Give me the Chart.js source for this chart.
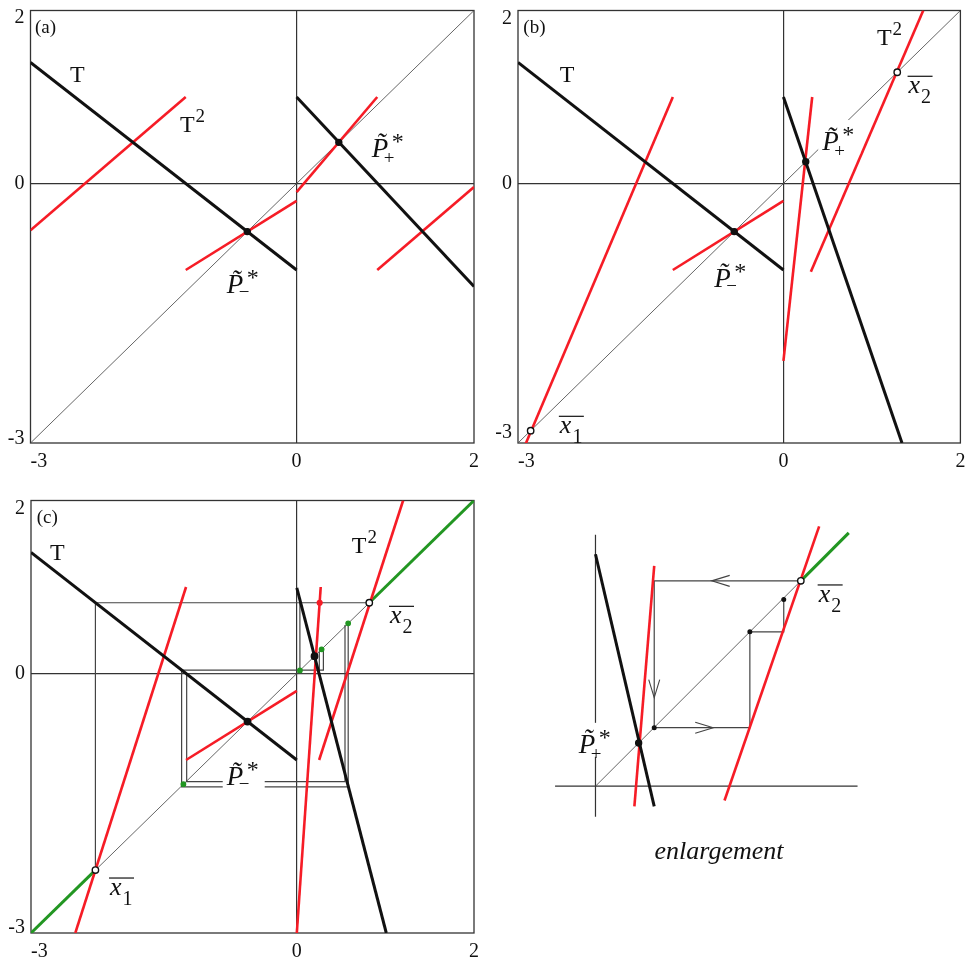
<!DOCTYPE html>
<html>
<head>
<meta charset="utf-8">
<title>T and T² – piecewise linear map</title>
<script src="https://cdn.jsdelivr.net/npm/chart.js@4.4.1/dist/chart.umd.min.js"></script>
<style>
  html, body { margin: 0; padding: 0; background: #fff; }
  body { width: 965px; height: 961px; position: relative; overflow: hidden; }
  canvas { position: absolute; }
  #caption { position: absolute; left: 619px; top: 838px; width: 200px; text-align: center;
             font: italic 26px/26px "Liberation Serif", "Times New Roman", serif; color: #111; }
</style>
</head>
<body>
<canvas id="panelA" width="482" height="470" style="left:0;top:0"></canvas>
<canvas id="panelB" width="483" height="470" style="left:482px;top:0"></canvas>
<canvas id="panelC" width="482" height="471" style="left:0;top:490px"></canvas>
<canvas id="panelD" width="340" height="340" style="left:540px;top:505px"></canvas>
<div id="caption">enlargement</div>
<script>
const SERIF = '"Liberation Serif", "Times New Roman", serif';
const tickValues = [-3, 0, 2];
const identityLine = [[-3, -3], [2, 2]];

// (a) T branches, T^2 branches, fixed points
const aLeftBranch = [[-3, 1.4], [0, -1.0]];
const aRightBranch = [[0, 1.0], [2, -1.19]];
const aSecondIterate = [
  [[-3, -0.54], [-1.25, 1.0]],
  [[-1.25, -1.0], [0, -0.2]],
  [[0, -0.1], [0.909, 1.0]],
  [[0.909, -1.0], [2, -0.04]]
];
const aFixedPoints = [[-0.556, -0.556], [0.476, 0.476]];

// (b)
const bLeftBranch = [[-3, 1.4], [0, -1.0]];
const bRightBranch = [[0, 1.0], [1.34, -3.0]];
const bSecondIterate = [
  [[-2.93, -3.05], [-1.25, 1.0]],
  [[-1.25, -1.0], [0, -0.2]],
  [[0, -2.05], [0.325, 1.0]],
  [[0.31, -1.02], [1.58, 2.0]]
];
const bFixedPoints = [[-0.556, -0.556], [0.252, 0.252]];
const bCyclePoints = [[-2.857, -2.857], [1.286, 1.286]];

// (c)
const cLeftBranch = [[-3, 1.4], [0, -1.0]];
const cRightBranch = [[0, 0.99], [1.01, -3.0]];
const cSecondIterate = [
  [[-2.5, -3.0], [-1.25, 1.0]],
  [[-1.25, -1.0], [0, -0.2]],
  [[0, -3.0], [0.27, 1.0]],
  [[0.252, -1.0], [1.2, 2.0]]
];
const cFixedPoints = [[-0.556, -0.556], [0.2, 0.2]];
const cCyclePoints = [[-2.273, -2.273], [0.818, 0.818]];
const cGreenDiagonal = [
  [[-3, -3], [-2.273, -2.273]],
  [[0.818, 0.818], [2, 2]]
];
const cOrbitStarts = [[0.035, 0.035], [0.28, 0.28], [0.58, 0.58], [-1.28, -1.28]];
const cRedMark = [[0.258, 0.818]];
const cCobweb = [
  [[-2.273, -2.273], [-2.273, 0.818], [0.818, 0.818]],
  [[0.035, 0.035], [0.035, 0.818]],
  [[0.58, 0.58], [0.58, -1.31], [-1.30, -1.31], [-1.30, 0.04], [0.30, 0.04], [0.30, 0.28]],
  [[0.544, 0.56], [0.544, -1.25], [-1.243, -1.25], [-1.243, 0.0], [0.254, 0.0], [0.254, 0.254]]
];

// enlargement near x = 0 .. x2
const dAxes = [[[0, -0.122], [0, 1.002]], [[-0.161, 0], [1.044, 0]]];
const dDiagonal = [[0, 0], [0.818, 0.818]];
const dGreen = [[0.818, 0.818], [1.009, 1.009]];
const dBranch = [[0, 0.924], [0.234, -0.08]];
const dSecondIterate = [
  [[0.234, 0.878], [0.155, -0.08]],
  [[0.891, 1.035], [0.514, -0.057]]
];
const dFixedPoint = [[0.172, 0.172]];
const dCyclePoint = [[0.818, 0.818]];
const dCobweb = [[0.818, 0.818], [0.234, 0.818], [0.234, 0.233], [0.615, 0.233], [0.615, 0.615], [0.75, 0.615], [0.75, 0.744]];
const dOrbitDots = [[0.234, 0.233], [0.615, 0.615], [0.75, 0.744]];
const dArrows = [[0.463, 0.818, 'left'], [0.234, 0.353, 'down'], [0.469, 0.233, 'right']];

// text anchors (left edge, baseline) in axis units
const aLabels = [
  { kind: 'tag', text: '(a)', at: [-2.949, 1.74] },
  { kind: 'T', at: [-2.555, 1.173] },
  { kind: 'T2', at: [-1.315, 0.599] },
  { kind: 'P', text: '\u2212', at: [-0.788, -1.269] },
  { kind: 'P', text: '+', at: [0.847, 0.31] }
];
const bLabels = [
  { kind: 'tag', text: '(b)', at: [-2.94, 1.74] },
  { kind: 'T', at: [-2.527, 1.177] },
  { kind: 'T2', at: [1.057, 1.601] },
  { kind: 'xbar', text: '2', at: [1.414, 1.043] },
  { kind: 'P', text: '+', at: [0.438, 0.387] },
  { kind: 'P', text: '\u2212', at: [-0.782, -1.193] },
  { kind: 'xbar', text: '1', at: [-2.527, -2.888] }
];
const cLabels = [
  { kind: 'tag', text: '(c)', at: [-2.936, 1.736] },
  { kind: 'T', at: [-2.786, 1.312] },
  { kind: 'T2', at: [0.62, 1.39] },
  { kind: 'xbar', text: '2', at: [1.052, 0.58] },
  { kind: 'xbar', text: '1', at: [-2.108, -2.561] },
  { kind: 'P', text: '\u2212', at: [-0.791, -1.289] }
];
const dLabels = [
  { kind: 'P', text: '+', at: [-0.067, 0.133] },
  { kind: 'xbar', text: '2', at: [0.889, 0.734] }
];

const INK = '#111';
const RED = 'rgb(246, 28, 38)';
const GREEN = 'rgb(34, 150, 34)';
const THIN = '#555';
const GRAY = '#444';

function pts(list) { return list.map(([x, y]) => ({ x, y })); }

function line(list, color, width, order) {
  return { data: pts(list), showLine: true, borderColor: color, borderWidth: width,
           pointRadius: 0, pointHoverRadius: 0, order: order, borderCapStyle: 'butt' };
}

function dots(list, fill, stroke, r, order) {
  return { data: pts(list), showLine: false, pointRadius: r, pointHoverRadius: r,
           pointBackgroundColor: fill, pointBorderColor: stroke, pointBorderWidth: 1.4, order: order };
}

// ---- label glyphs ----
const drawers = {
  tag(ctx, x, y, t) {
    ctx.font = '19px ' + SERIF;
    ctx.fillText(t, x, y);
  },
  T(ctx, x, y) {
    ctx.font = '24px ' + SERIF;
    ctx.fillText('T', x, y);
  },
  T2(ctx, x, y) {
    ctx.font = '24px ' + SERIF;
    ctx.fillText('T', x, y);
    const w = ctx.measureText('T').width;
    ctx.font = '19px ' + SERIF;
    ctx.fillText('2', x + w + 1, y - 10);
  },
  P(ctx, x, y, sign) {
    ctx.fillStyle = '#fff';
    ctx.fillRect(x - 4, y - 30, 42, 34);
    ctx.fillStyle = INK;
    ctx.font = 'italic 27px ' + SERIF;
    ctx.fillText('P\u0303', x, y);
    ctx.font = '24px ' + SERIF;
    ctx.fillText('*', x + 20, y - 8);
    ctx.font = '19px ' + SERIF;
    ctx.fillText(sign, x + 12, y + (sign === '+' ? 7 : 5));
  },
  xbar(ctx, x, y, digit) {
    ctx.font = 'italic 26px ' + SERIF;
    ctx.fillText('x', x, y);
    const w = ctx.measureText('x').width;
    ctx.beginPath();
    ctx.lineWidth = 1.2;
    ctx.moveTo(x - 1, y - 17);
    ctx.lineTo(x + 24, y - 17);
    ctx.stroke();
    ctx.font = '20px ' + SERIF;
    ctx.fillText(digit, x + w + 1, y + 10);
  }
};

function textPlugin(labels) {
  return {
    id: 'mapLabels',
    afterDatasetsDraw(chart) {
      const { ctx, scales: { x, y } } = chart;
      ctx.save();
      ctx.fillStyle = INK;
      ctx.strokeStyle = INK;
      ctx.textAlign = 'left';
      ctx.textBaseline = 'alphabetic';
      labels.forEach(l => {
        drawers[l.kind](ctx, x.getPixelForValue(l.at[0]), y.getPixelForValue(l.at[1]), l.text);
      });
      ctx.restore();
    }
  };
}

const framePlugin = {
  id: 'frame',
  beforeDatasetsDraw(chart) {
    const { ctx, chartArea: a } = chart;
    ctx.save();
    ctx.strokeStyle = '#333';
    ctx.lineWidth = 1.3;
    ctx.strokeRect(a.left, a.top, a.right - a.left, a.bottom - a.top);
    ctx.restore();
  }
};

// end labels sit inside the frame: "-3" left-aligned, y labels pulled inwards
function tickTweak(t) {
  return {
    id: 'tickTweak',
    beforeDraw(chart) {
      chart.scales.y.getLabelItems().forEach(it => {
        if (it.label === '2') it.options.translation[1] += t.top;
        if (it.label === '-3') it.options.translation[1] += t.bottom;
      });
      const xi = chart.scales.x.getLabelItems();
      if (xi.length) xi[0].options.textAlign = 'left';
    }
  };
}

function axis(dir, size, pad) {
  return {
    type: 'linear', min: -3, max: 2,
    afterBuildTicks: s => { s.ticks = tickValues.map(value => ({ value })); },
    afterFit: s => {
      if (dir === 'x') { s.height = size; s.paddingLeft = 0; s.paddingRight = 0; }
      else { s.width = size; s.paddingTop = 0; s.paddingBottom = 0; }
    },
    ticks: { callback: v => String(v), font: { family: SERIF, size: 20 }, color: '#111',
             padding: pad, maxRotation: 0, autoSkip: false },
    grid: { drawTicks: false, lineWidth: 1.2,
            color: c => (c.tick && c.tick.value === 0 ? '#333' : 'rgba(0,0,0,0)') },
    border: { display: false }
  };
}

function buildPanel(id, area, sets, labels, tweak) {
  const canvas = document.getElementById(id);
  const W = canvas.width, H = canvas.height;
  return new Chart(canvas, {
    type: 'scatter',
    data: { datasets: sets },
    options: {
      responsive: false, animation: false, events: [], devicePixelRatio: 1,
      layout: { padding: { left: 0, top: area.top, right: W - area.right, bottom: 0 } },
      plugins: { legend: { display: false }, tooltip: { enabled: false } },
      scales: { x: axis('x', H - area.bottom, 7), y: axis('y', area.left, tweak.pad) }
    },
    plugins: [framePlugin, tickTweak(tweak), textPlugin(labels)]
  });
}

// (a)
buildPanel('panelA', { left: 30.5, top: 10.5, right: 474, bottom: 443 }, [
  dots(aFixedPoints, INK, INK, 3, 0),
  line(aLeftBranch, INK, 3, 1),
  line(aRightBranch, INK, 3, 1),
  ...aSecondIterate.map(s => line(s, RED, 2.6, 2)),
  line(identityLine, THIN, 0.9, 5)
], aLabels, { top: 7, bottom: -4, pad: 6 });

// (b)
buildPanel('panelB', { left: 36, top: 10.5, right: 480, bottom: 443 }, [
  dots(bFixedPoints, INK, INK, 3, 0),
  dots(bCyclePoints, '#fff', INK, 3.2, 0),
  line(bLeftBranch, INK, 3, 1),
  line(bRightBranch, INK, 3, 1),
  ...bSecondIterate.map(s => line(s, RED, 2.6, 2)),
  line(identityLine, THIN, 0.9, 5)
], bLabels, { top: 8.5, bottom: -10, pad: 6 });

// (c)
buildPanel('panelC', { left: 31, top: 10.5, right: 474, bottom: 443 }, [
  dots(cFixedPoints, INK, INK, 3.2, 0),
  dots(cCyclePoints, '#fff', INK, 3.2, 0),
  dots(cOrbitStarts, GREEN, GREEN, 2.2, 0),
  dots(cRedMark, RED, RED, 2.4, 0),
  line(cLeftBranch, INK, 3, 1),
  line(cRightBranch, INK, 3, 1),
  ...cSecondIterate.map(s => line(s, RED, 2.6, 2)),
  ...cGreenDiagonal.map(s => line(s, GREEN, 3, 3)),
  ...cCobweb.map(s => line(s, GRAY, 1.2, 4)),
  line(identityLine, THIN, 0.9, 5)
], cLabels, { top: 8, bottom: -5.5, pad: 6 });

// enlargement: 258 px per unit, origin at page (592.3, 789.3)
const arrowPlugin = {
  id: 'arrows',
  afterDatasetsDraw(chart) {
    const { ctx, scales: { x, y } } = chart;
    ctx.save();
    ctx.strokeStyle = GRAY;
    ctx.lineWidth = 1.1;
    dArrows.forEach(([ax, ay, dir]) => {
      const px = x.getPixelForValue(ax), py = y.getPixelForValue(ay);
      const L = 18, S = 5.5;
      ctx.beginPath();
      if (dir === 'left') { ctx.moveTo(px + L, py - S); ctx.lineTo(px, py); ctx.lineTo(px + L, py + S); }
      if (dir === 'right') { ctx.moveTo(px - L, py - S); ctx.lineTo(px, py); ctx.lineTo(px - L, py + S); }
      if (dir === 'down') { ctx.moveTo(px - S, py - L); ctx.lineTo(px, py); ctx.lineTo(px + S, py - L); }
      ctx.stroke();
    });
    ctx.restore();
  }
};

new Chart(document.getElementById('panelD'), {
  type: 'scatter',
  data: {
    datasets: [
      dots(dFixedPoint, INK, INK, 3, 0),
      dots(dCyclePoint, '#fff', INK, 3.2, 0),
      dots(dOrbitDots, INK, INK, 1.8, 0),
      line(dBranch, INK, 3, 1),
      ...dSecondIterate.map(s => line(s, RED, 2.6, 2)),
      line(dGreen, GREEN, 3, 3),
      line(dCobweb, GRAY, 1.2, 4),
      line(dDiagonal, THIN, 0.9, 5),
      ...dAxes.map(s => line(s, '#333', 1.2, 5))
    ]
  },
  options: {
    responsive: false, animation: false, events: [], devicePixelRatio: 1,
    layout: { padding: 0 },
    plugins: { legend: { display: false }, tooltip: { enabled: false } },
    scales: {
      x: { type: 'linear', display: false, min: -0.2027, max: 1.1151 },
      y: { type: 'linear', display: false, min: -0.2159, max: 1.1019 }
    }
  },
  plugins: [arrowPlugin, textPlugin(dLabels)]
});
</script>
</body>
</html>
